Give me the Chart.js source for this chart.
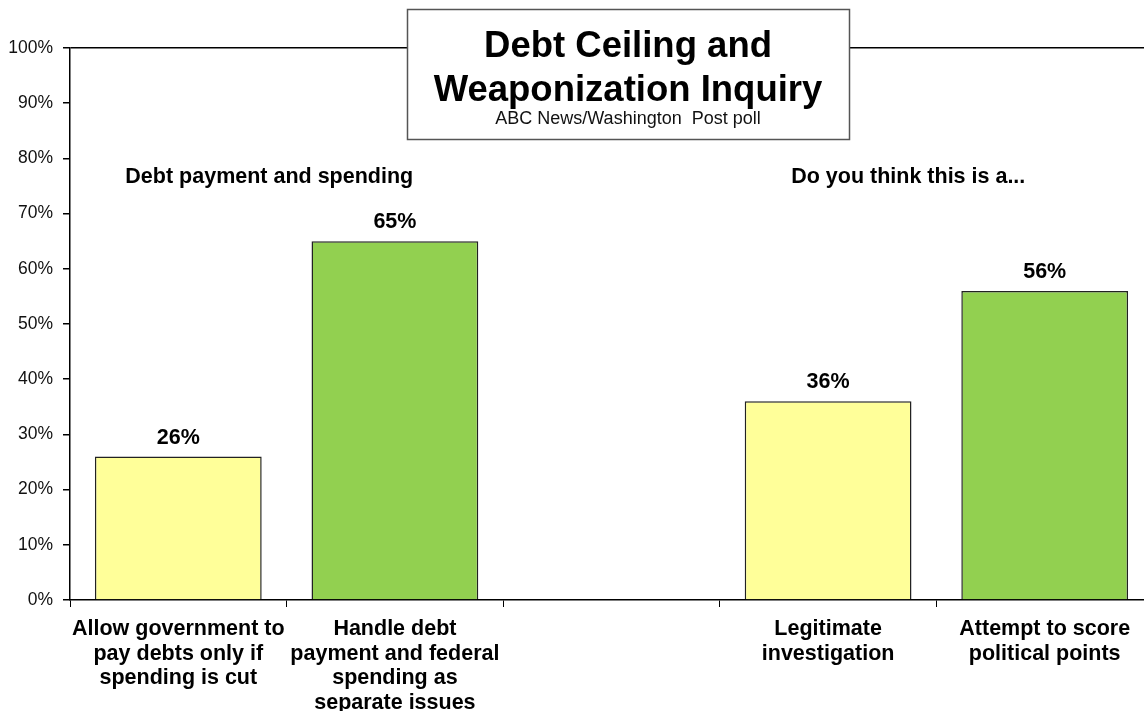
<!DOCTYPE html>
<html>
<head>
<meta charset="utf-8">
<script src="https://cdn.jsdelivr.net/npm/chart.js@4.4.1/dist/chart.umd.min.js"></script>
<style>
  html, body { margin: 0; padding: 0; background: #fff; overflow: hidden; }
  #wrap { width: 1153px; height: 711px; }
</style>
</head>
<body>
<div id="wrap"><canvas id="chart-one" width="1153" height="711"></canvas></div>
<script>
// categories (middle one left empty as a gap between the two questions)
const categories = [
  ['Allow government to', 'pay debts only if', 'spending is cut'],
  ['Handle debt', 'payment and federal', 'spending as', 'separate issues'],
  '',
  ['Legitimate', 'investigation'],
  ['Attempt to score', 'political points']
];
const percents = [26, 65, null, 36, 56];
const barColors = ['#FFFF99', '#92D050', '#FFFFFF', '#FFFF99', '#92D050'];
const yTicks = [0, 10, 20, 30, 40, 50, 60, 70, 80, 90, 100];

const titleLines = ['Debt Ceiling and', 'Weaponization Inquiry'];
const subtitle = 'ABC News/Washington  Post poll';
// group headings: text, category position, y value
const groupHeads = [
  { text: 'Debt payment and spending', at: 0.42, y: 76.6 },
  { text: 'Do you think this is a...', at: 3.37, y: 76.6 }
];

const FONT = '"Liberation Sans", Arial, sans-serif';

const barLabels = {
  id: 'barLabels',
  afterDatasetsDraw(chart) {
    const ctx = chart.ctx;
    const meta = chart.getDatasetMeta(0);
    ctx.save();
    ctx.font = 'bold 21.5px ' + FONT;
    ctx.fillStyle = '#000';
    ctx.textAlign = 'center';
    ctx.textBaseline = 'bottom';
    meta.data.forEach((bar, i) => {
      if (percents[i] == null) return;
      ctx.fillText(percents[i] + '%', bar.x, bar.y - 8);
    });
    ctx.restore();
  }
};

const headings = {
  id: 'headings',
  afterDraw(chart) {
    const ctx = chart.ctx;
    const x = chart.scales.x, y = chart.scales.y;
    ctx.save();
    ctx.fillStyle = '#000';
    ctx.textAlign = 'center';
    ctx.textBaseline = 'middle';
    ctx.font = 'bold 21.5px ' + FONT;
    groupHeads.forEach(h => {
      ctx.fillText(h.text, x.getPixelForValue(h.at), y.getPixelForValue(h.y));
    });

    // title box
    const bx = 407, by = 9, bw = 442, bh = 130;
    ctx.fillStyle = '#fff';
    ctx.fillRect(bx, by, bw, bh);
    ctx.strokeStyle = '#555';
    ctx.lineWidth = 1.5;
    ctx.strokeRect(bx + 0.5, by + 0.5, bw, bh);
    const cx = bx + bw / 2;
    ctx.fillStyle = '#000';
    ctx.textBaseline = 'alphabetic';
    ctx.font = 'bold 36.5px ' + FONT;
    ctx.fillText(titleLines[0], cx, 57);
    ctx.fillText(titleLines[1], cx, 101);
    ctx.font = '18px ' + FONT;
    ctx.fillStyle = '#111';
    ctx.fillText(subtitle, cx, 124);
    ctx.restore();
  }
};

new Chart(document.getElementById('chart-one'), {
  type: 'bar',
  data: {
    labels: categories,
    datasets: [{
      data: percents,
      backgroundColor: barColors,
      borderColor: '#222',
      borderWidth: 1.5,
      categoryPercentage: 1,
      barPercentage: 0.77
    }]
  },
  options: {
    responsive: false,
    animation: false,
    devicePixelRatio: 1,
    layout: { padding: { top: 48, left: 0, right: 0, bottom: 0 } },
    plugins: { legend: { display: false }, tooltip: { enabled: false } },
    scales: {
      x: {
        grid: {
          display: true,
          drawOnChartArea: false,
          offset: true,
          color: '#000',
          tickLength: 7
        },
        border: { display: true, color: '#000', width: 1.5 },
        ticks: {
          color: '#000',
          font: { family: FONT, size: 21.5, weight: 'bold', lineHeight: 1.14 },
          padding: 10,
          maxRotation: 0,
          autoSkip: false
        },
        afterFit(scale) { scale.height = 111; }
      },
      y: {
        min: 0,
        max: 100,
        afterBuildTicks(scale) { scale.ticks = yTicks.map(v => ({ value: v })); },
        grid: {
          color: c => (c.tick && c.tick.value === 100 ? '#000' : 'rgba(0,0,0,0)'),
          tickColor: '#000',
          tickLength: 7,
          lineWidth: 1.5
        },
        border: { display: true, color: '#000', width: 1.5 },
        ticks: {
          color: '#111',
          font: { family: FONT, size: 17.5 },
          padding: 10,
          callback: v => v + '%'
        },
        afterFit(scale) { scale.width = 70; }
      }
    }
  },
  plugins: [barLabels, headings]
});
</script>
</body>
</html>
